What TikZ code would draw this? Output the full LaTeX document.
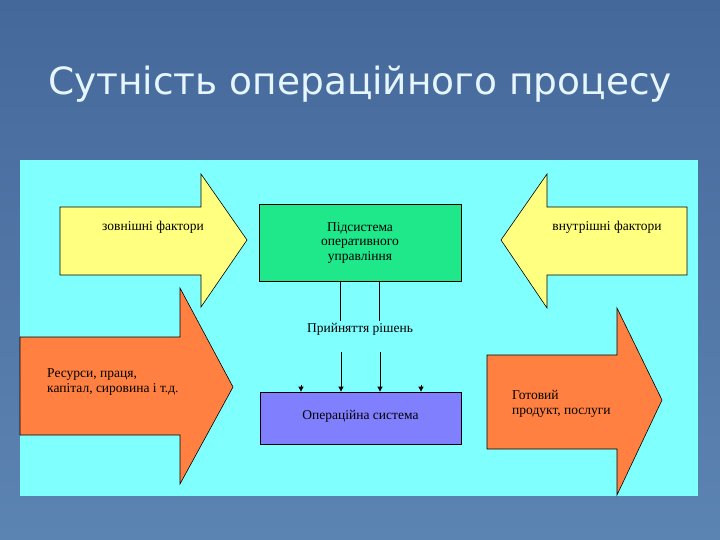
\documentclass[tikz,border=0pt]{standalone}
\usepackage{fontspec}
\setmainfont{Liberation Serif}
\newfontfamily\titlefont{DejaVu Sans}
\usetikzlibrary{arrows.meta,calc}
\definecolor{bgtop}{HTML}{45689A}
\definecolor{bgbot}{HTML}{5C84B2}
\definecolor{panel}{HTML}{80FFFF}
\definecolor{yel}{HTML}{FFFF80}
\definecolor{ora}{HTML}{FF8040}
\definecolor{grn}{HTML}{1EE88A}
\definecolor{pur}{HTML}{8080FF}
\definecolor{titlec}{HTML}{E6F6FF}
\begin{document}
\begin{tikzpicture}[x=1pt,y=-1pt,
  bigarrow/.style={draw=black,line width=0.6pt,line join=miter},
  lbl/.style={font=\fontsize{13.5}{14.5}\selectfont,text=black,inner sep=2pt},
  box/.style={draw=black,line width=0.8pt,minimum width=#1,inner sep=0pt},
  conn/.style={draw=black,line width=0.8pt},
  tip/.style={conn,-{Triangle[length=5pt,width=5pt]}}]
\useasboundingbox (0,0) rectangle (720,540);
\shade[top color=bgtop,bottom color=bgbot] (0,0) rectangle (720,540);
% title
\node[font=\titlefont\fontsize{37.5}{42}\selectfont,text=titlec,anchor=base,inner sep=0pt] (title) at (360,95) {Сутність операційного процесу};
% panel
\fill[panel] (20,160) rectangle (698,496);
% yellow arrows
\draw[bigarrow,fill=yel] (60,207) -- (201,207) -- (201,174) -- (247,240) -- (201,307) -- (201,275) -- (60,275) -- cycle;
\draw[bigarrow,fill=yel] (687,207) -- (547,207) -- (547,174) -- (501,240) -- (547,308) -- (547,275) -- (687,275) -- cycle;
% orange arrows
\draw[bigarrow,fill=ora] (20,337) -- (180,337) -- (180,288) -- (233,387) -- (180,484) -- (180,435) -- (20,435) -- cycle;
\draw[bigarrow,fill=ora] (487,355) -- (617,355) -- (617,308) -- (662,400) -- (617,495) -- (617,449) -- (487,449) -- cycle;
% labels on arrows
\node[lbl] (ext) at (153,227) {зовнішні фактори};
\node[lbl] (int) at (607,227) {внутрішні фактори};
\node[lbl,anchor=west,align=left] (res) at (45,382) {Ресурси, праця,\\капітал, сировина і т.д.};
\node[lbl,anchor=west,align=left] (prod) at (510,404) {Готовий\\продукт, послуги};
% boxes
\node[box=202pt,minimum height=77pt,fill=grn,lbl,align=center] (ctrl) at (360,242.5) {Підсистема\\оперативного\\управління};
\node[lbl] (dec) at (360,329) {Прийняття рішень};
\node[box=201pt,minimum height=52pt,fill=pur,lbl] (ops) at (360.5,418) {\raisebox{6pt}{Операційна система}};
% connectors
\draw[conn] ([xshift=-19.5pt]ctrl.south) -- ([xshift=-19.5pt]ctrl.south |- dec.north);
\draw[conn] ([xshift=19.5pt]ctrl.south) -- ([xshift=19.5pt]ctrl.south |- dec.north);
\coordinate (a1) at (341,352);
\coordinate (a2) at (380,352);
\coordinate (s1) at (301,385);
\coordinate (s2) at (421,385);
\draw[tip] (a1) -- (a1 |- ops.north);
\draw[tip] (a2) -- (a2 |- ops.north);
\draw[tip] (s1) -- (s1 |- ops.north);
\draw[tip] (s2) -- (s2 |- ops.north);
\end{tikzpicture}
\end{document}
